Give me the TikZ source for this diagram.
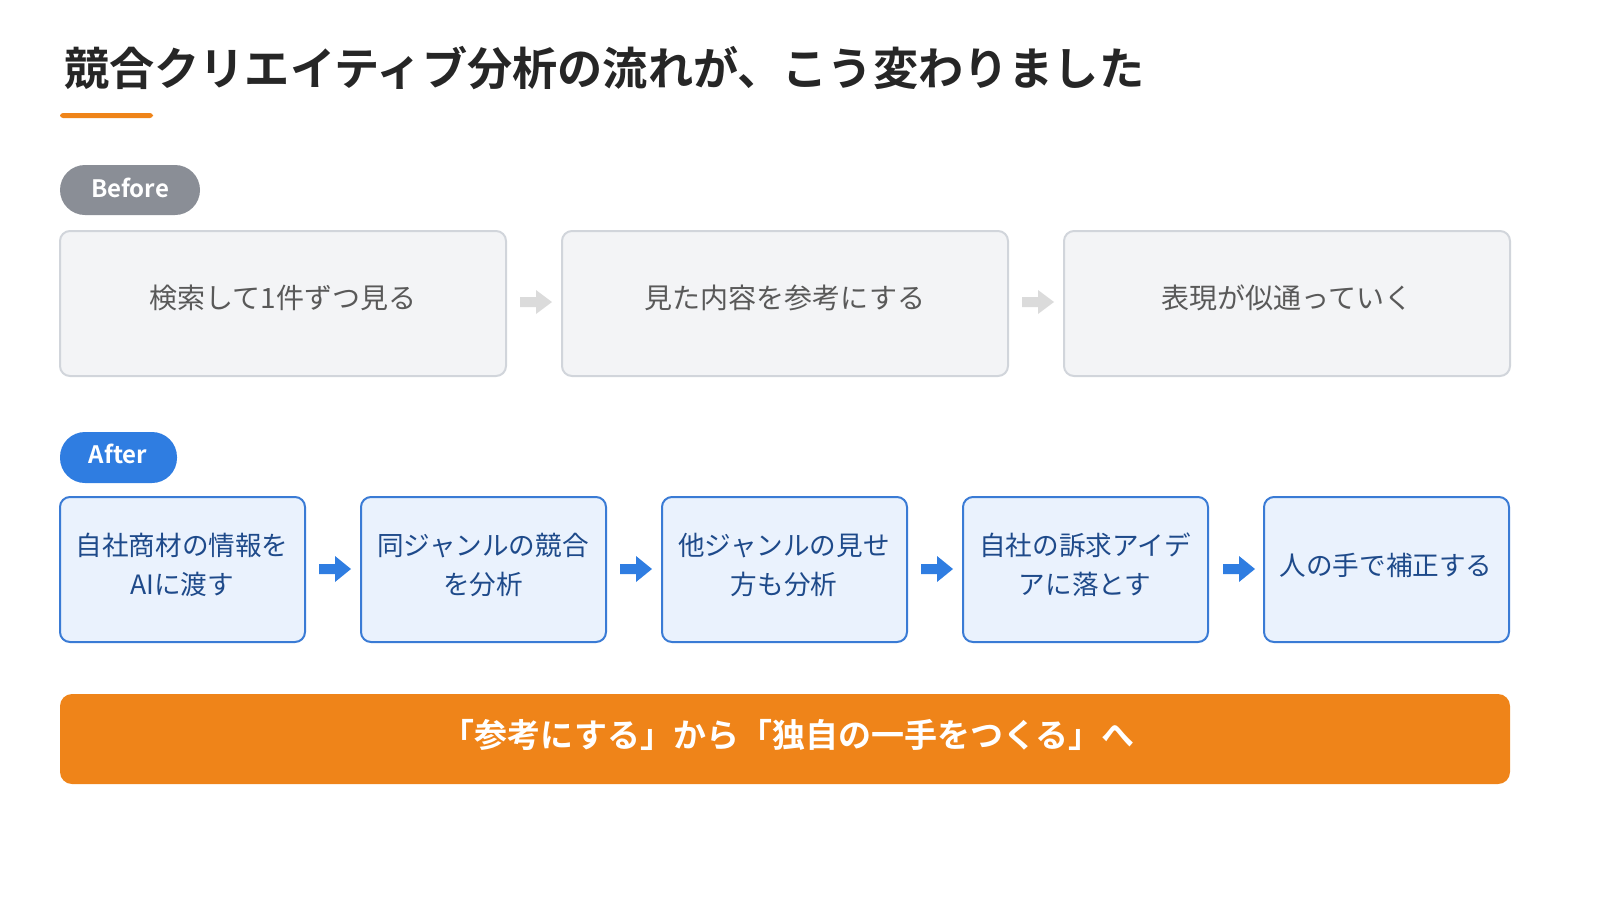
\documentclass[tikz,border=0pt]{standalone}
\usepackage{fontspec}
\setmainfont{Noto Sans CJK JP}
\newfontfamily\jpb{Noto Sans CJK JP Bold}
\begin{document}
\begin{tikzpicture}[x=0.5pt,y=-0.5pt,
  pill/.style={text=white,font=\jpb\fontsize{12}{14}\selectfont}]
\definecolor{orng}{HTML}{EF8419}
\definecolor{bpill}{HTML}{2F7DE1}
\definecolor{gpill}{HTML}{8A8E96}
\definecolor{afill}{HTML}{EAF2FD}
\definecolor{aline}{HTML}{3A7BD5}
\definecolor{atext}{HTML}{1E4A8A}
\definecolor{bfill}{HTML}{F3F4F6}
\definecolor{bline}{HTML}{D1D5DB}
\useasboundingbox (0,0) rectangle (1600,900);
\node[anchor=west,font=\jpb\fontsize{22.6}{26}\selectfont,text=black!85] (title) at (57,68) {競合クリエイティブ分析の流れが、こう変わりました};
\fill[orng,rounded corners=1.5pt] (60,113) rectangle (153,118);
% Before
\fill[gpill,rounded corners=12.5pt] (60,165) rectangle (200,215);
\node[pill] (bl) at (130,188) {Before};
\foreach \x/\n/\t in {60/b1/検索して1件ずつ見る,562/b2/見た内容を参考にする,1064/b3/表現が似通っていく}{
  \draw[draw=bline,fill=bfill,line width=1pt,rounded corners=5pt] (\x,231) rectangle ++(446,145);
  \node[text=black!65,font=\fontsize{14}{16}\selectfont] (\n) at (\x+223,298) {\t};
}
\foreach \x in {520,1022}{
  \fill[gray!28] (\x,297) -- (\x+16,297) -- (\x+16,290) -- (\x+32,302) -- (\x+16,314) -- (\x+16,307) -- (\x,307) -- cycle;
}
% After
\fill[bpill,rounded corners=12.5pt] (60,432) rectangle (177,483);
\node[pill] (al) at (118,454) {After};
\foreach \x/\n/\t in {60/a1/{自社商材の情報を\\AIに渡す},361/a2/{同ジャンルの競合\\を分析},662/a3/{他ジャンルの見せ\\方も分析},963/a4/{自社の訴求アイデ\\アに落とす},1264/a5/{人の手で補正する}}{
  \draw[draw=aline,fill=afill,line width=1pt,rounded corners=5pt] (\x,497) rectangle ++(245,145);
  \node[text=atext,font=\fontsize{13.3}{19.5}\selectfont,align=center] (\n) at (\x+122,565) {\t};
}
\foreach \x in {319,620,921,1223}{
  \fill[bpill] (\x,564) -- (\x+16,564) -- (\x+16,556) -- (\x+32,569) -- (\x+16,582) -- (\x+16,574) -- (\x,574) -- cycle;
}
% bar
\fill[orng,rounded corners=6pt] (60,694) rectangle (1510,784);
\node[text=white,font=\jpb\fontsize{16.5}{18}\selectfont] (bar) at (788,735) {「参考にする」から「独自の一手をつくる」へ};
\end{tikzpicture}
\end{document}
